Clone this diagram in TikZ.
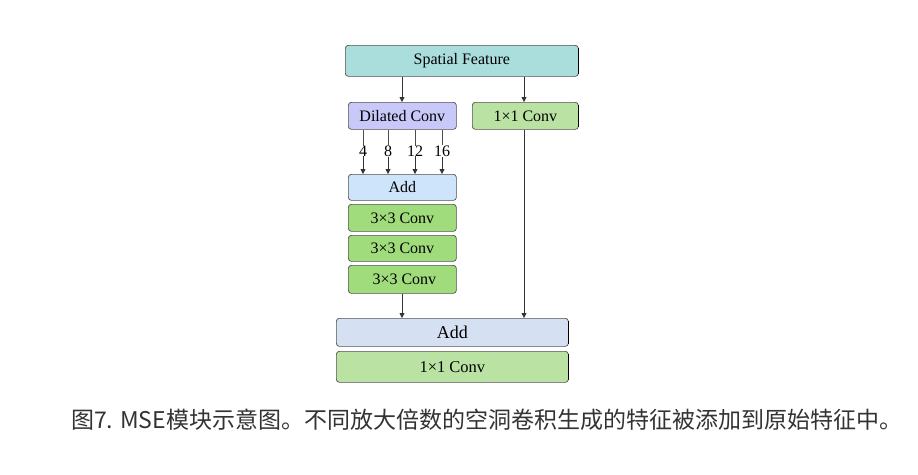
\documentclass[tikz,border=0pt]{standalone}
\usepackage{fontspec}
\setmainfont{Liberation Serif}
\newfontfamily\cjk{Noto Sans CJK SC}
\usetikzlibrary{arrows.meta}
\definecolor{cteal}{HTML}{A9DEDD}
\definecolor{clav}{HTML}{C9C9F9}
\definecolor{cgreenl}{HTML}{B9E2A3}
\definecolor{caddl}{HTML}{CDE4FB}
\definecolor{cgreen}{HTML}{A0DC7C}
\definecolor{cadd2}{HTML}{D5E0F2}
\definecolor{cedge}{HTML}{505050}
\begin{document}
\begin{tikzpicture}[x=1pt,y=-1pt,
  box/.style={draw=cedge, line width=0.7pt, rounded corners=3pt, anchor=north west, inner sep=0pt, font=\fontsize{16}{18}\selectfont},
  arr/.style={-{Triangle[length=5pt,width=5pt]}, line width=0.8pt, draw=black!80},
  ln/.style={line width=0.8pt, draw=black!70},
  num/.style={font=\fontsize{16}{18}\selectfont, inner sep=0pt}]
\fill[white] (0,0) rectangle (918,474);
\useasboundingbox (0,0) rectangle (918,474);
\node[box, fill=cteal, minimum width=233pt, minimum height=31pt] (sf) at (345,45) {Spatial Feature};
\node[box, fill=clav, minimum width=108pt, minimum height=27pt] (dc) at (348,102) {Dilated Conv};
\node[box, fill=cgreenl, minimum width=106pt, minimum height=27pt] (c1) at (472,102) {1×1 Conv};
\node[box, fill=caddl, minimum width=108pt, minimum height=26pt] (add1) at (348,174) {Add};
\node[box, fill=cgreen, minimum width=108pt, minimum height=27pt] (c3a) at (348,204) {3×3 Conv};
\node[box, fill=cgreen, minimum width=108pt, minimum height=26pt] (c3b) at (348,235) {3×3 Conv};
\node[box, fill=cgreen, minimum width=108pt, minimum height=28pt] (c3c) at (348,265) {\hspace{4pt}3×3 Conv};
\node[box, fill=cadd2, minimum width=232pt, minimum height=28pt, font=\fontsize{18}{20}\selectfont] (add2) at (336,318) {Add};
\node[box, fill=cgreenl, minimum width=232pt, minimum height=31pt, font=\fontsize{16.5}{18}\selectfont] (c1b) at (336,351) {1×1 Conv};
% dark right edges
\foreach \n in {sf,c1,add2,c1b}{
  \draw[line width=1.4pt, black] ([yshift=-3pt]\n.north east) -- ([yshift=3pt]\n.south east);
}
% arrows from spatial feature
\draw[arr] (sf.south -| 402,0) -- (dc.north -| 402,0);
\draw[arr] (sf.south -| 524,0) -- (c1.north -| 524,0);
% dilation branches
\foreach \x/\r in {363/4, 388/8, 415/12, 442/16}{
  \node[num] (n\r) at (\x,151) {\r};
  \draw[ln] (dc.south -| \x,0) -- (n\r.north);
  \draw[arr] (n\r.south) -- (add1.north -| \x,0);
}
\draw[arr] (c3c.south -| 402,0) -- (add2.north -| 402,0);
\draw[arr] (c1.south -| 524,0) -- (add2.north -| 524,0);
\node[anchor=west, inner sep=0pt, text=black!80, font=\cjk\fontsize{23}{26}\selectfont] (cap) at (71,420) {图7. MSE模块示意图。不同放大倍数的空洞卷积生成的特征被添加到原始特征中。};
\end{tikzpicture}
\end{document}
